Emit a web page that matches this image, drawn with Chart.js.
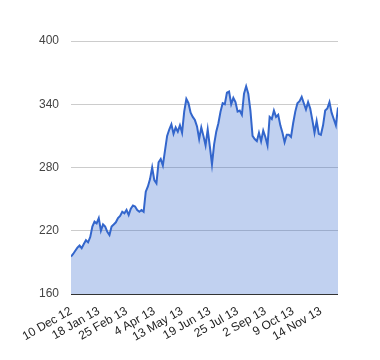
<!DOCTYPE html>
<html>
<head>
<meta charset="utf-8">
<script src="https://cdn.jsdelivr.net/npm/chart.js@4"></script>
<style>
  body { margin: 0; background: #fff; }
  #wrap { width: 380px; height: 360px; }
</style>
</head>
<body>
<div id="wrap"><canvas id="myChart" width="380" height="360"></canvas></div>
<script>
// one reading every ~2 trading days, a tick label every 13 readings
var tickLabels = ['10 Dec 12', '18 Jan 13', '25 Feb 13', '4 Apr 13', '13 May 13',
  '19 Jun 13', '25 Jul 13', '2 Sep 13', '9 Oct 13', '14 Nov 13'];
var labelEvery = 13;

var prices = [
  195.5, 198, 201, 204, 206, 203.5, 207.5, 211, 209, 214, 224, 228.6, 227,
  232, 220, 226, 224, 219, 216, 224, 226, 228, 232, 234, 238, 236.5,
  239.7, 235, 241, 244, 243, 239.7, 238, 239.7, 238, 257, 262, 269, 280,
  268, 265, 285, 288, 282, 296, 310, 316, 321, 312, 318, 314, 320,
  313, 333, 345, 341, 332, 328, 325, 319, 307, 318, 310, 301, 316,
  300, 283, 302, 314, 322, 333, 341, 340, 351, 352, 340, 346, 342,
  333, 334, 330, 350, 357, 350, 334, 310, 307, 305, 313, 305, 315,
  309, 301, 328, 326, 334, 328, 330, 320, 313, 304, 311, 311, 309,
  322, 333, 341, 343, 347, 341, 335, 342, 336, 325, 313, 324, 312,
  311, 320, 334, 336, 342, 332, 326, 320, 337
];

var yTicks = [160, 220, 280, 340, 400];

var points = prices.map(function (p, i) { return { x: i, y: p }; });

var ctx = document.getElementById('myChart').getContext('2d');
var chart = new Chart(ctx, {
  type: 'line',
  data: {
    datasets: [{
      data: points,
      borderColor: '#3366cc',
      backgroundColor: 'rgba(51,102,204,0.3)',
      borderWidth: 2,
      fill: 'origin',
      pointRadius: 0,
      tension: 0
    }]
  },
  options: {
    responsive: false,
    animation: false,
    layout: { padding: { top: 41, right: 42, left: 0, bottom: 0 } },
    plugins: { legend: { display: false }, tooltip: { enabled: false } },
    scales: {
      x: {
        type: 'linear',
        min: 0,
        max: prices.length - 1,
        grid: { display: false },
        border: { display: false },
        afterBuildTicks: function (scale) {
          scale.ticks = tickLabels.map(function (t, i) { return { value: i * labelEvery }; });
        },
        ticks: {
          autoSkip: false,
          minRotation: 30,
          maxRotation: 30,
          padding: 2,
          color: '#222',
          font: { family: 'Liberation Sans, Arial', size: 12 },
          callback: function (v) { return tickLabels[v / labelEvery] || ''; }
        },
        afterFit: function (scale) { scale.height = 66; }
      },
      y: {
        min: 160,
        max: 400,
        afterBuildTicks: function (scale) {
          scale.ticks = yTicks.map(function (v) { return { value: v }; });
        },
        grid: {
          drawTicks: false,
          color: function (c) { return c.tick && c.tick.value === 160 ? '#333333' : '#cccccc'; }
        },
        border: { display: false },
        ticks: {
          padding: 12,
          color: '#444',
          font: { family: 'Liberation Sans, Arial', size: 12 }
        },
        afterFit: function (scale) { scale.width = 71; }
      }
    }
  }
});
</script>
</body>
</html>
